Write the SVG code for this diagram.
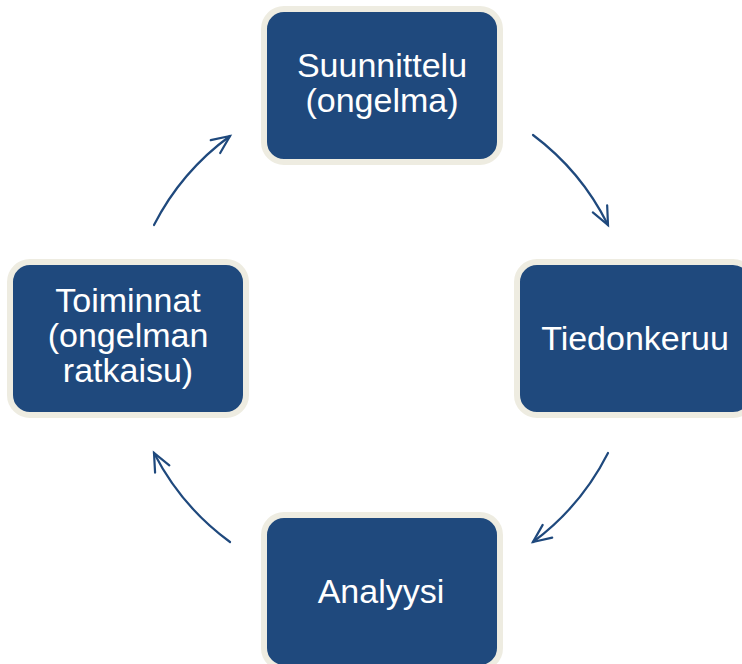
<svg xmlns="http://www.w3.org/2000/svg" width="742" height="664" viewBox="0 0 742 664">
  <defs>
    <style>
      .box { fill: #1F497D; stroke: #EEECE1; stroke-width: 6; }
      .label { fill: #FFFFFF; font-family: "Liberation Sans", Arial, sans-serif; font-size: 34px; text-anchor: middle; }
      .arc { fill: none; stroke: #1F497D; stroke-width: 2.2; stroke-linecap: round; }
    </style>
    <marker id="head" markerUnits="userSpaceOnUse" viewBox="-22 -12 26 24" refX="0" refY="0" markerWidth="26" markerHeight="24" orient="auto">
      <path d="M-18,-8 L0,0 L-18,8" fill="none" stroke="#1F497D" stroke-width="2.2" stroke-linecap="round" stroke-linejoin="miter"/>
    </marker>
  </defs>
  <rect width="742" height="664" fill="#FFFFFF"/>

  <!-- cycle connectors: arcs on a circle centred at (382,338), r=253 -->
  <g id="connectors">
    <path class="arc" d="M533,135 A253,253 0 0 1 608,225" marker-end="url(#head)"/>
    <path class="arc" d="M608,453 A253,253 0 0 1 533,542" marker-end="url(#head)"/>
    <path class="arc" d="M230,542 A253,253 0 0 1 154,453" marker-end="url(#head)"/>
    <path class="arc" d="M154,225 A253,253 0 0 1 230,136" marker-end="url(#head)"/>
  </g>

  <g id="suunnittelu">
    <rect class="box" x="264" y="9" width="236" height="153" rx="20"/>
    <text class="label" x="382" y="77">Suunnittelu</text>
    <text class="label" x="382" y="112">(ongelma)</text>
  </g>

  <g id="tiedonkeruu">
    <rect class="box" x="517" y="262" width="236" height="153" rx="20"/>
    <text class="label" x="635" y="350">Tiedonkeruu</text>
  </g>

  <g id="analyysi">
    <rect class="box" x="264" y="515" width="236" height="153" rx="20"/>
    <text class="label" x="381" y="603">Analyysi</text>
  </g>

  <g id="toiminnat">
    <rect class="box" x="10" y="262" width="236" height="153" rx="20"/>
    <text class="label" x="128" y="312">Toiminnat</text>
    <text class="label" x="128" y="347">(ongelman</text>
    <text class="label" x="128" y="382">ratkaisu)</text>
  </g>
</svg>
